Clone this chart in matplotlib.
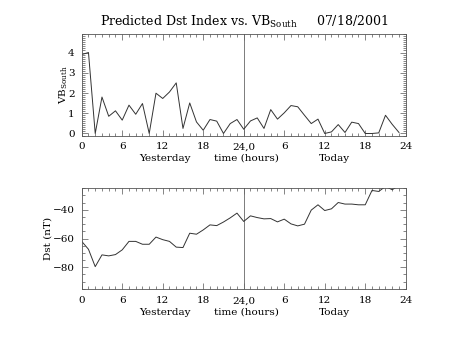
import matplotlib
matplotlib.use("Agg")
import matplotlib.pyplot as plt
from matplotlib.ticker import MultipleLocator

plt.rcParams["font.family"] = ["DejaVu Serif"]
plt.rcParams["font.size"] = 7.5

# hours since start of yesterday (0..47)
hours = list(range(48))

vb_south = [3.9, 4.0, 0.0, 1.8, 0.85, 1.12, 0.66, 1.4, 0.95, 1.48,
            0.0, 1.99, 1.73, 2.05, 2.5, 0.25, 1.51, 0.57, 0.16, 0.69,
            0.61, 0.0, 0.49, 0.69, 0.21, 0.62, 0.77, 0.25, 1.18, 0.71,
            1.02, 1.38, 1.32, 0.9, 0.49, 0.71, 0.0, 0.08, 0.44, 0.05,
            0.56, 0.49, 0.0, 0.0, 0.03, 0.9, 0.45, 0.05]

dst = [-62, -67.5, -79.6, -71.4, -72.1, -71.2, -67.9, -62, -62, -64,
       -64, -59, -60.8, -62, -66, -66.3, -56.3, -57, -54, -50.5,
       -51, -48.5, -45.6, -42.3, -48.1, -44.2, -45.4, -46.3, -46.1, -48.4,
       -46.5, -49.8, -51.2, -50.0, -40.2, -36.5, -40.5, -39.3, -34.9, -36.0,
       -36.0, -36.5, -36.5, -26.5, -27.2, -23.7, -26, -23]

tick_pos = [0, 6, 12, 18, 24, 30, 36, 42, 48]
tick_lbl = ["0", "6", "12", "18", "24,0", "6", "12", "18", "24"]

fig = plt.figure(figsize=(4.54, 3.41), dpi=100)
ax1 = fig.add_axes([0.18, 0.6026, 0.7137, 0.2968])
ax2 = fig.add_axes([0.18, 0.1516, 0.7137, 0.2962])

for ax in (ax1, ax2):
    ax.set_xlim(0, 48)
    ax.set_xticks(tick_pos)
    ax.set_xticklabels(tick_lbl)
    ax.xaxis.set_minor_locator(MultipleLocator(1))
    ax.tick_params(which="both", direction="in", top=True, right=True,
                   width=0.5, color="#555555", pad=5)
    ax.tick_params(which="major", length=4)
    ax.tick_params(which="minor", length=2)
    for s in ax.spines.values():
        s.set_linewidth(0.6)
        s.set_color("#555555")
    ax.axvline(24, color="#666666", linewidth=0.6)
    xt = ax.get_xaxis_transform()
    ax.text(12.3, -0.225, "Yesterday", transform=xt, ha="center", va="center")
    ax.text(24.4, -0.225, "time (hours)", transform=xt, ha="center", va="center")
    ax.text(37.5, -0.225, "Today", transform=xt, ha="center", va="center")

ax1.plot(hours, vb_south, color="#333333", linewidth=0.7)
ax1.set_ylim(-0.1, 4.9)
ax1.yaxis.set_major_locator(MultipleLocator(1))
ax1.yaxis.set_minor_locator(MultipleLocator(0.1))
ax1.set_ylabel("VB$_{\\mathregular{South}}$", labelpad=-1)
ax1.set_title("Predicted Dst Index vs. VB$_{\\mathregular{South}}$     07/18/2001",
              fontsize=9, pad=6)

ax2.plot(hours, dst, color="#333333", linewidth=0.7)
ax2.set_ylim(-95.4, -25)
ax2.yaxis.set_major_locator(MultipleLocator(20))
ax2.yaxis.set_minor_locator(MultipleLocator(5))
ax2.set_ylabel("Dst (nT)", labelpad=0)

fig.savefig("out.png", dpi=100)
